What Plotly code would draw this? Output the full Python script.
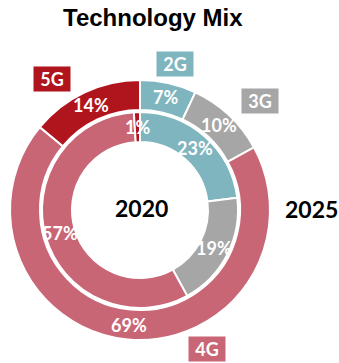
import math
import plotly.graph_objects as go

W, H = 339, 363

technologies = ["2G", "3G", "4G", "5G"]
share_2020 = [23, 19, 57, 1]
share_2025 = [7, 10, 69, 14]
colors = ["#7FB5BE", "#A6A6A6", "#C96676", "#B0141C"]

# ring geometry (pixels)
CX, CY = 140, 210
R_OUT, R_OUT_IN = 130, 100
R_IN, R_IN_HOLE = 98, 68


def px_x(x):
    return x / W


def px_y(y):
    return 1 - y / H


def domain(r):
    return dict(x=[px_x(CX - r), px_x(CX + r)], y=[px_y(CY + r), px_y(CY - r)])


fig = go.Figure()
fig.add_trace(go.Pie(
    labels=technologies, values=share_2025, sort=False, direction="clockwise",
    rotation=0, hole=R_OUT_IN / R_OUT, domain=domain(R_OUT),
    marker=dict(colors=colors, line=dict(color="white", width=2)),
    textinfo="none", hoverinfo="label+percent", showlegend=False,
))
fig.add_trace(go.Pie(
    labels=technologies, values=share_2020, sort=False, direction="clockwise",
    rotation=0, hole=R_IN_HOLE / R_IN, domain=domain(R_IN),
    marker=dict(colors=colors, line=dict(color="white", width=2)),
    textinfo="none", hoverinfo="label+percent", showlegend=False,
))

annotations = []
label_font = dict(family="Lato, 'Open Sans', sans-serif", size=18, color="white")


def ring_labels(values, radius):
    total = sum(values)
    start = 0.0
    for v in values:
        mid = (start + v / 2) / total * 2 * math.pi
        start += v
        x = CX + radius * math.sin(mid)
        y = CY - radius * math.cos(mid)
        annotations.append(dict(
            x=px_x(x), y=px_y(y), xref="paper", yref="paper",
            text=f"<b>{v}%</b>", showarrow=False, font=label_font,
            xanchor="center", yanchor="middle",
        ))


ring_labels(share_2025, 116)
ring_labels(share_2020, 83)

# year captions
year_font = dict(family="Lato, 'Open Sans', sans-serif", size=23, color="black")
annotations.append(dict(x=px_x(CX + 1), y=px_y(208), xref="paper", yref="paper",
                        text="<b>2020</b>", showarrow=False, font=year_font,
                        xanchor="center", yanchor="middle"))
annotations.append(dict(x=px_x(311), y=px_y(209), xref="paper", yref="paper",
                        text="<b>2025</b>", showarrow=False, font=year_font,
                        xanchor="center", yanchor="middle"))

# technology badges
badge_pos = {"5G": (52, 79), "2G": (175, 64), "3G": (260, 101), "4G": (207, 349)}
for tech, col in zip(technologies, colors):
    bx, by = badge_pos[tech]
    annotations.append(dict(
        x=px_x(bx), y=px_y(by), xref="paper", yref="paper",
        text=f"<b>{tech}</b>", showarrow=False,
        font=dict(family="Lato, 'Open Sans', sans-serif", size=18, color="white"),
        bgcolor=col, width=34, height=22, borderpad=1,
        xanchor="center", yanchor="middle",
    ))

# title
annotations.append(dict(x=px_x(153), y=px_y(17), xref="paper", yref="paper",
                        text="<b>Technology Mix</b>", showarrow=False,
                        font=dict(family="Liberation Sans, Arial, sans-serif", size=24, color="black"),
                        xanchor="center", yanchor="middle"))

fig.update_layout(
    width=W, height=H, margin=dict(l=0, r=0, t=0, b=0),
    paper_bgcolor="white", plot_bgcolor="white",
    annotations=annotations,
)

fig.write_html("out.html")
